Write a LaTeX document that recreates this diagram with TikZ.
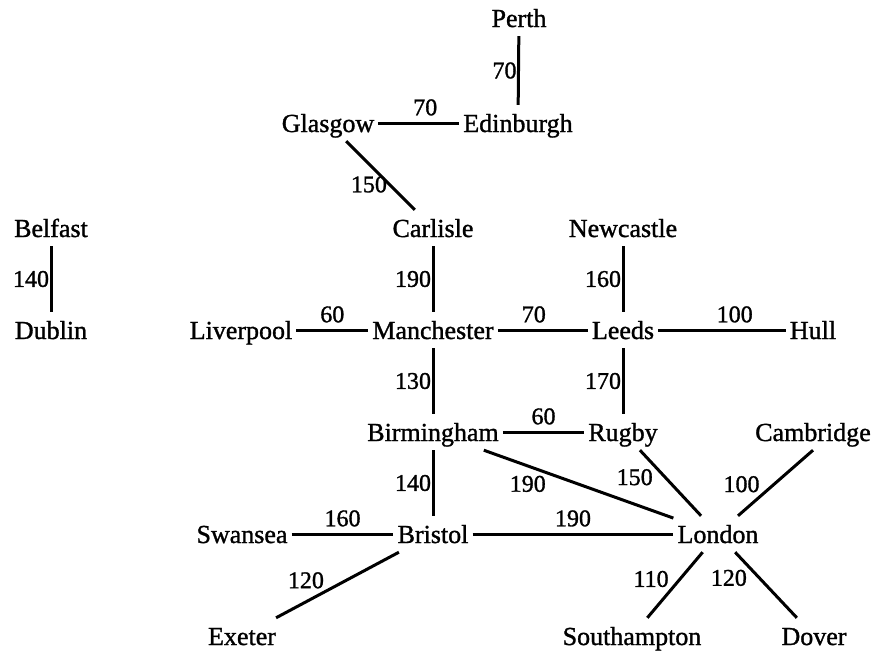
\documentclass[tikz,border=0pt]{standalone}
\usepackage{fontspec}
\setmainfont{Liberation Serif}
\newfontfamily\townfont{Liberation Serif}[FakeBold=1.2]
\begin{document}
\begin{tikzpicture}[x=1pt,y=-1pt,
  city/.style={font=\townfont\fontsize{26}{30}\selectfont, text height=21pt, text depth=3pt,
               inner xsep=4pt, inner ysep=6pt, anchor=base},
  road/.style={line width=3pt},
  dist/.style={font=\townfont\fontsize{24}{28}\selectfont, inner sep=1pt},
  vdist/.style={dist, midway, left, inner sep=0.5pt},
  hdist/.style={dist, above=5pt}]
\useasboundingbox (0,0) rectangle (876,651);

% towns, placed on their baselines
\node[city] (Perth)       at (519,27)  {Perth};
\node[city] (Glasgow)     at (328,132) {Glasgow};
\node[city] (Edinburgh)   at (518,132) {Edinburgh};
\node[city] (Belfast)     at (51,237)  {Belfast};
\node[city] (Carlisle)    at (433,237) {Carlisle};
\node[city] (Newcastle)   at (623,237) {Newcastle};
\node[city] (Dublin)      at (51,339)  {Dublin};
\node[city] (Liverpool)   at (241,339) {Liverpool};
\node[city] (Manchester)  at (433,339) {Manchester};
\node[city] (Leeds)       at (623,339) {Leeds};
\node[city] (Hull)        at (813,339) {Hull};
\node[city] (Birmingham)  at (433,441) {Birmingham};
\node[city] (Rugby)       at (623,441) {Rugby};
\node[city] (Cambridge)   at (813,441) {Cambridge};
\node[city] (Swansea)     at (242,543) {Swansea};
\node[city] (Bristol)     at (433,543) {Bristol};
\node[city] (London)      at (718,543) {London};
\node[city] (Exeter)      at (242,645) {Exeter};
\node[city] (Southampton) at (632,645) {Southampton};
\node[city] (Dover)       at (814,645) {Dover};

% roads with their distances
\draw[road] (Perth) -- node[vdist] {70} (Edinburgh);
\draw[road] (Glasgow) -- node[hdist, pos=0.58] {70} (Edinburgh);
\draw[road] (Glasgow) -- node[dist, pos=0.63, anchor=east] {150} (Carlisle);
\draw[road] (Belfast) -- node[vdist] {140} (Dublin);
\draw[road] (Carlisle) -- node[vdist] {190} (Manchester);
\draw[road] (Newcastle) -- node[vdist] {160} (Leeds);
\draw[road] (Liverpool) -- node[hdist, midway] {60} (Manchester);
\draw[road] (Manchester) -- node[hdist, pos=0.4] {70} (Leeds);
\draw[road] (Leeds) -- node[hdist, pos=0.6] {100} (Hull);
\draw[road] (Manchester) -- node[vdist] {130} (Birmingham);
\draw[road] (Leeds) -- node[vdist] {170} (Rugby);
\draw[road] (Birmingham) -- node[hdist, midway] {60} (Rugby);
\draw[road] (Birmingham) -- node[dist, pos=0.34, anchor=north east] {190} (London);
\draw[road] (Rugby) -- node[dist, pos=0.25, anchor=north east] {150} (London);
\draw[road] (Cambridge.south) -- node[dist, pos=0.68, anchor=south east] {100} ([xshift=20pt]London.north);
\draw[road] (Birmingham) -- node[vdist] {140} (Bristol);
\draw[road] (Swansea) -- node[hdist, midway] {160} (Bristol);
\draw[road] (Bristol) -- node[hdist, midway] {190} (London);
\draw[road] (Bristol) -- node[dist, pos=0.59, anchor=south east] {120} (Exeter);
\draw[road] (London) -- node[dist, pos=0.57, anchor=south east] {110} (Southampton);
\draw[road] (London) -- node[dist, pos=0.23, anchor=north east] {120} (Dover);
\end{tikzpicture}
\end{document}
